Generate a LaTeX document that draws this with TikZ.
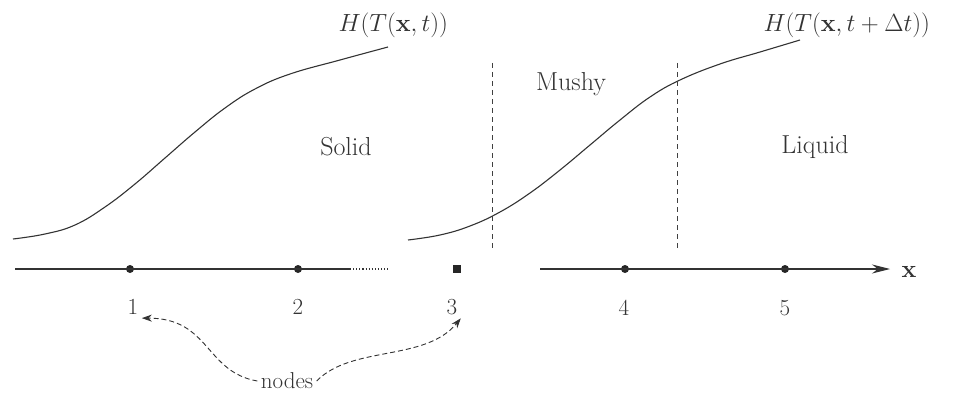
\documentclass[tikz,border=0pt]{standalone}
\usetikzlibrary{arrows.meta}
\begin{document}
\begin{tikzpicture}[x=1pt,y=-1pt,
  curve/.style={line width=1.1pt, black!80},
  axisline/.style={line width=1.1pt, black!80},
  phase/.style={dash pattern=on 5pt off 4pt, line width=0.9pt, black!75},
  region/.style={font=\fontsize{26}{31}\selectfont, text=black!80},
  hlabel/.style={font=\fontsize{28}{33}\selectfont, text=black!80},
  nlabel/.style={font=\fontsize{23}{28}\selectfont, text=black!80},
  dot/.style={circle, fill=black!85, inner sep=0pt, minimum size=8pt},
  sqdot/.style={rectangle, fill=black!85, inner sep=0pt, minimum size=8pt},
  pointer/.style={dash pattern=on 5pt off 3pt, line width=0.9pt, black!80, -{Stealth[length=10pt,width=7pt]}}]
\useasboundingbox (0,0) rectangle (967,396);

% enthalpy curves
\draw[curve] plot[smooth, tension=0.7] coordinates {(13,239) (45,234) (75,225) (105,207) (135,184) (165,158) (195,132) (225,108) (255,89) (290,74) (340,60) (388,47)};
\draw[curve] plot[smooth, tension=0.7] coordinates {(408,240) (440,235) (470,226) (500,212) (530,193) (560,170) (590,145) (620,120) (650,97) (680,80) (720,64) (760,52) (800,40)};

\node[hlabel, anchor=base west] (h1) at (335,32) {$H(T(\mathbf{x},t))$};
\node[hlabel, anchor=base west] (h2) at (760,32) {$H(T(\mathbf{x},t+\Delta t))$};

% phase boundaries
\draw[phase] (492,63) -- (492,250);
\draw[phase] (677,63) -- (677,250);

\node[region] (solid) at (346,147) {Solid};
\node[region] (mushy) at (571,84) {Mushy};
\node[region] (liquid) at (815,147) {Liquid};

% axis
\coordinate (a0) at (15,269);
\coordinate (a1) at (350,269);
\coordinate (a2) at (390,269);
\coordinate (b0) at (540,269);
\coordinate (b1) at (890,269);
\node[dot] (n1) at (130,269) {};
\node[dot] (n2) at (298,269) {};
\node[sqdot] (n3) at (457,269) {};
\node[dot] (n4) at (625,269) {};
\node[dot] (n5) at (785,269) {};
\draw[axisline] (a0) -- (a1);
\draw[axisline, dotted] (a1) -- (a2);
\draw[axisline, -{Stealth[length=18pt,width=9pt]}] (b0) -- (b1);
\node[hlabel, anchor=west] (xl) at (898,272) {$\mathbf{x}$};

\node[nlabel] (l1) at (133,307) {1};
\node[nlabel] (l2) at (298,307) {2};
\node[nlabel] (l3) at (452,307) {3};
\node[nlabel] (l4) at (624,308) {4};
\node[nlabel] (l5) at (785,308) {5};

\node[nlabel] (nodes) at (287,381) {nodes};
\draw[pointer] (nodes.west) .. controls (205,372) and (210,318) .. (l1.south east);
\draw[pointer] (nodes.east) .. controls (352,345) and (425,362) .. (l3.south east);
\end{tikzpicture}
\end{document}
